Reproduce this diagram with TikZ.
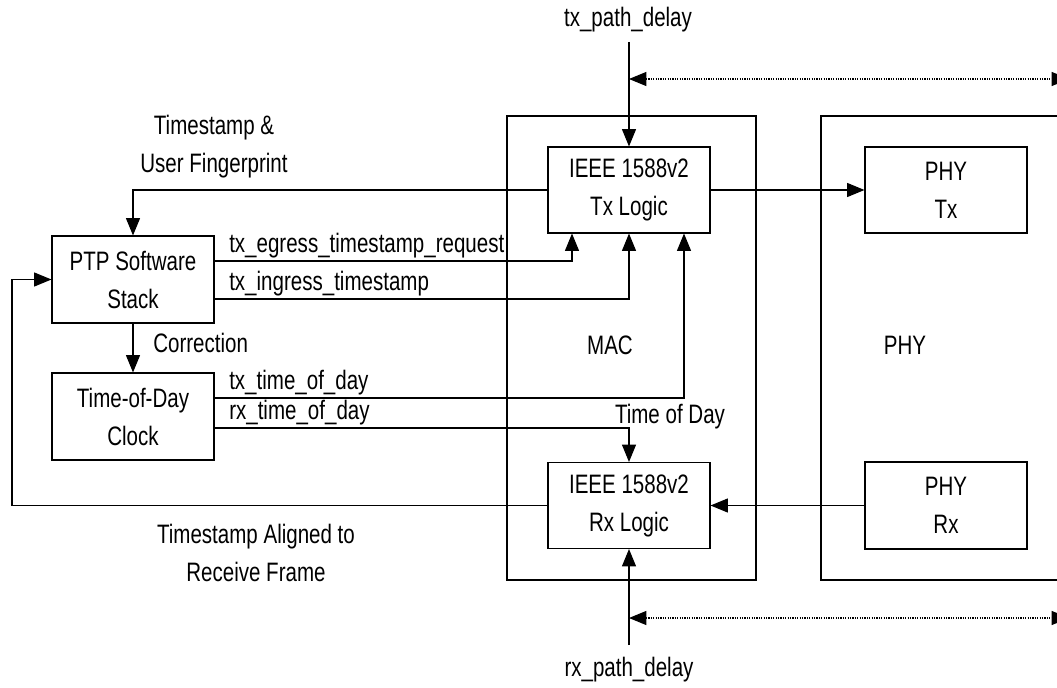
\documentclass[tikz,border=0pt]{standalone}
\usepackage{fontspec}
\setmainfont{Liberation Sans}[FakeStretch=0.77]
\usetikzlibrary{arrows.meta,calc}
\begin{document}
\begin{tikzpicture}[x=0.75pt,y=-0.75pt,
  every node/.style={font=\fontsize{20}{28.5}\selectfont, inner sep=0pt},
  blk/.style={draw, line width=0.8pt, minimum width=121.5pt, minimum height=64.5pt, align=center},
  lbl/.style={align=center},
  arr/.style={line width=0.8pt, -{Triangle[length=13pt,width=10.5pt]}},
  dotarr/.style={line width=0.8pt, densely dotted, {Triangle[length=13pt,width=10.5pt]}-{Triangle[length=13pt,width=10.5pt]}},
  plain/.style={line width=0.8pt}]
\useasboundingbox (0,0) rectangle (1057,688);
\clip (0,0) rectangle (1057,688);
% outer boxes
\node[draw, line width=0.8pt, minimum width=186.75pt, minimum height=348pt] (mac) at (631.5,348) {};
\node[draw, line width=0.8pt, minimum width=209.25pt, minimum height=348pt] (phy) at (960.5,348) {};
\node (maclbl) at (610,345) {MAC};
\node (phylbl) at (905,345) {PHY};
% inner blocks
\node[blk] (tx) at (629,190) {IEEE 1588v2\\Tx Logic};
\node[blk] (rx) at (629,505.5) {IEEE 1588v2\\Rx Logic};
\node[blk] (phytx) at (946,190) {PHY\\Tx};
\node[blk, minimum height=65.25pt] (phyrx) at (946,505.5) {PHY\\Rx};
\node[blk, minimum height=65.25pt] (ptp) at (133,279.5) {PTP Software\\Stack};
\node[blk, minimum height=65.25pt] (tod) at (133,416.5) {Time-of-Day\\Clock};
% coordinates
\coordinate (txin) at (629,42);
\coordinate (rxin) at (629,645);
\coordinate (dtl) at (629,79);
\coordinate (dtr) at (1069,79);
\coordinate (dbl) at (629,618);
\coordinate (dbr) at (1069,618);
\coordinate (fbx) at (12,0);
% labels
\node (txpd) at (628,20) {tx\_path\_delay};
\node (rxpd) at (629,670) {rx\_path\_delay};
\node[lbl] (tsuf) at (214,146.5) {Timestamp \&\\User Fingerprint};
\node[lbl] (tsal) at (256,553) {Timestamp Aligned to\\Receive Frame};
\node[anchor=south west] (egl) at (229,258) {tx\_egress\_timestamp\_request};
\node[anchor=south west] (ingl) at (229,296) {tx\_ingress\_timestamp};
\node[anchor=south west] (txtl) at (229,395) {tx\_time\_of\_day};
\node[anchor=south west] (rxtl) at (229,425) {rx\_time\_of\_day};
\node[anchor=west] (corl) at (153,343) {Correction};
\node (todl) at (670,417) {Time of Day};
% connectors
\draw[arr] (txin) -- (tx.north);
\draw[arr] (rxin) -- (rx.south);
\draw[dotarr] (dtl) -- (dtr);
\draw[dotarr] (dbl) -- (dbr);
\draw[arr] (tx.east) -- (phytx.west);
\draw[arr] (phyrx.west) -- (rx.east);
\draw[arr] (tx.west) -| (ptp.north);
\draw[arr] ($(ptp.east)+(0,-18.5)$) -| ($(tx.south)+(-57,0)$);
\draw[arr] ($(ptp.east)+(0,19.5)$) -| (tx.south);
\draw[arr] ($(tod.east)+(0,-18.5)$) -| ($(tx.south)+(55,0)$);
\draw[arr] ($(tod.east)+(0,11.5)$) -| (rx.north);
\draw[arr] (ptp.south) -- (tod.north);
\draw[arr] (rx.west) -- (rx.west -| fbx) |- (ptp.west);
\end{tikzpicture}
\end{document}
